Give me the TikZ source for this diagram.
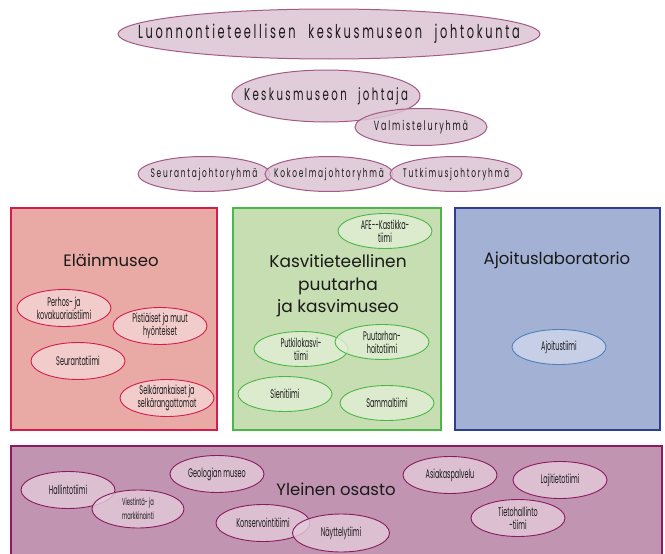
\documentclass[tikz,border=0pt]{standalone}
\usepackage{fontspec}
\setmainfont{Poppins}
\newfontfamily\narrowfont[FakeStretch=0.52]{Poppins}
\newfontfamily\spacedfont[FakeStretch=0.6,LetterSpace=14,WordSpace=2.2]{Poppins}
\usetikzlibrary{shapes.geometric}

\definecolor{boardfill}{HTML}{DCC3D3}
\definecolor{boardline}{HTML}{A45A88}
\definecolor{zoofill}{HTML}{E9AAA6}
\definecolor{zooline}{HTML}{D31D4B}
\definecolor{zooteam}{HTML}{F5D5D5}
\definecolor{botfill}{HTML}{C6DEB1}
\definecolor{botline}{HTML}{4DB649}
\definecolor{botteam}{HTML}{E2EFD6}
\definecolor{labfill}{HTML}{A3B1D5}
\definecolor{labline}{HTML}{2F3E8E}
\definecolor{labteam}{HTML}{D1D7EB}
\definecolor{labteamline}{HTML}{4F81BD}
\definecolor{genfill}{HTML}{C194B1}
\definecolor{genline}{HTML}{8A1B5F}
\definecolor{genteam}{HTML}{E3CCDB}
\definecolor{ink}{HTML}{1A1A1A}

\newcommand{\boardtext}[1]{\makebox[0pt][c]{#1}}

\begin{document}
\begin{tikzpicture}[x=1pt,y=-1pt,
    board/.style={ellipse, draw=boardline, fill=boardfill, fill opacity=0.85, text opacity=1, inner sep=0, line width=1pt, text=ink, font=\spacedfont},
    unit/.style={rectangle, line width=1.2pt, inner sep=0},
    unittitle/.style={font=\fontsize{16.5}{23}\selectfont, align=center, text=ink},
    team/.style={ellipse, fill opacity=0.8, text opacity=1, inner sep=0, line width=0.9pt, text=ink, minimum width=94pt, minimum height=37pt, align=center, font=\narrowfont\fontsize{12.5}{13}\selectfont}]
  \useasboundingbox (0,0) rectangle (665,554);
  % johto
  \node (board) [board, minimum width=422pt, minimum height=50pt, font=\spacedfont\fontsize{19}{21}\selectfont] at (329,34) {\boardtext{Luonnontieteellisen keskusmuseon johtokunta}};
  \node (director) [board, minimum width=188pt, minimum height=52pt, font=\spacedfont\fontsize{17}{19}\selectfont] at (326,96) {\boardtext{Keskusmuseon johtaja}};
  \node (prep) [board, minimum width=132pt, minimum height=37pt, font=\spacedfont\fontsize{13.3}{15}\selectfont] at (421,127) {\boardtext{Valmisteluryhmä}};
  \node (follow) [board, minimum width=132pt, minimum height=35pt, font=\spacedfont\fontsize{12.4}{14}\selectfont] at (204,174) {\boardtext{Seurantajohtoryhmä}};
  \node (collect) [board, minimum width=128pt, minimum height=35pt, font=\spacedfont\fontsize{12.4}{14}\selectfont] at (329,174) {\boardtext{Kokoelmajohtoryhmä}};
  \node (research) [board, minimum width=132pt, minimum height=35pt, font=\spacedfont\fontsize{12.4}{14}\selectfont] at (456,174) {\boardtext{Tutkimusjohtoryhmä}};
  % yksiköt
  \node (zoo) [unit, draw=zooline, fill=zoofill, minimum width=206pt, minimum height=222pt] at (114,319) {};
  \node (bot) [unit, draw=botline, fill=botfill, minimum width=208pt, minimum height=222pt] at (337,319) {};
  \node (lab) [unit, draw=labline, fill=labfill, minimum width=205pt, minimum height=222pt] at (557.5,319) {};
  \node (gen) [unit, draw=genline, fill=genfill, minimum width=651pt, minimum height=110pt] at (336.5,501) {};
  \node (zootitle) [unittitle] at (111,260) {Eläinmuseo};
  \node (bottitle) [unittitle, font=\fontsize{17}{22.5}\selectfont] at (338,286) {Kasvitieteellinen\\puutarha\\ja kasvimuseo};
  \node (labtitle) [unittitle] at (557,260) {Ajoituslaboratorio};
  \node (gentitle) [unittitle] at (336,489) {Yleinen osasto};
  % Eläinmuseo
  \node (moth) [team, draw=zooline, fill=zooteam] at (64,308) {Perhos- ja\\kovakuoriaistiimi};
  \node (wasp) [team, draw=zooline, fill=zooteam] at (160,326) {Pistiäiset ja muut\\hyönteiset};
  \node (zoofollow) [team, draw=zooline, fill=zooteam] at (78,361) {Seurantatiimi};
  \node (spine) [team, draw=zooline, fill=zooteam] at (167,398) {Selkärankaiset ja\\selkärangattomat};
  % Kasvimuseo
  \node (afe) [team, draw=botline, fill=botteam, minimum height=35pt] at (385,231) {AFE--Kastikka-\\tiimi};
  \node (vascular) [team, draw=botline, fill=botteam, minimum height=35pt] at (301,349) {Putkilokasvi-\\tiimi};
  \node (garden) [team, draw=botline, fill=botteam, minimum height=35pt] at (382,342) {Puutarhan-\\hoitotiimi};
  \node (fungi) [team, draw=botline, fill=botteam, minimum height=35pt] at (285,394) {Sienitiimi};
  \node (moss) [team, draw=botline, fill=botteam, minimum height=35pt] at (387,403) {Sammaltiimi};
  % Ajoituslaboratorio
  \node (dating) [team, draw=labteamline, fill=labteam, minimum height=35pt] at (559,347) {Ajoitustiimi};
  % Yleinen osasto
  \node (admin) [team, draw=genline, fill=genteam] at (68,490) {Hallintotiimi};
  \node (comms) [team, draw=genline, fill=genteam, minimum width=92pt, minimum height=38pt, font=\narrowfont\fontsize{10}{14}\selectfont] at (138,509) {Viestintä- ja\\markkinointi};
  \node (geo) [team, draw=genline, fill=genteam] at (217,474) {Geologian museo};
  \node (conserv) [team, draw=genline, fill=genteam] at (263,523) {Konservointitiimi};
  \node (exhib) [team, draw=genline, fill=genteam, minimum width=97pt, minimum height=38pt] at (341,533) {Näyttelytiimi};
  \node (service) [team, draw=genline, fill=genteam] at (450,475) {Asiakaspalvelu};
  \node (species) [team, draw=genline, fill=genteam] at (560,480) {Lajitietotiimi};
  \node (it) [team, draw=genline, fill=genteam] at (518,518) {Tietohallinto\\-tiimi};
\end{tikzpicture}
\end{document}
